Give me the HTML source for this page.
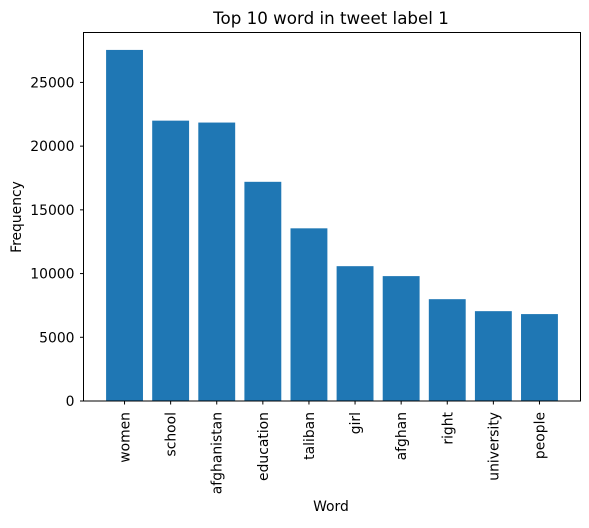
<!DOCTYPE html>
<html><head><meta charset="utf-8"><style>
body{margin:0;background:#fff;font-family:"Liberation Sans","DejaVu Sans",sans-serif}
text{font-family:"DejaVu Sans","Liberation Sans",sans-serif;fill:#000}
</style></head><body>
<svg id="chart" width="589" height="523">
<text x="331" y="24" font-size="16.7" text-anchor="middle">Top 10 word in tweet label 1</text>
<g id="bars"></g>
<g id="yticks"></g>
<g id="xticks"></g>
<rect x="83.5" y="32.5" width="497" height="368.5" fill="none" stroke="#000" stroke-width="1"/>
<text x="331" y="511" font-size="13.9" text-anchor="middle">Word</text>
<text transform="translate(21,217) rotate(-90)" font-size="13.9" text-anchor="middle">Frequency</text>
</svg>
<script>
const categories=["women","school","afghanistan","education","taliban","girl","afghan","right","university","people"];
const values=[27550,22000,21850,17200,13550,10580,9800,7990,7050,6820];
const yTicks=[0,5000,10000,15000,20000,25000];
const NS="http://www.w3.org/2000/svg";
const L=83.5,R=580.5,T=32.5,B=401;
const xmin=-0.89,xmax=9.89,ymax=28917;
const x=v=>L+(v-xmin)/(xmax-xmin)*(R-L);
const y=v=>B-v/ymax*(B-T);
function mk(t,a){const e=document.createElementNS(NS,t);for(const k in a)e.setAttribute(k,a[k]);return e;}
const gb=document.getElementById('bars'),gy=document.getElementById('yticks'),gx=document.getElementById('xticks');
categories.forEach((c,i)=>{
 const r=mk('rect',{x:x(i-0.4),y:y(values[i]),width:x(i+0.4)-x(i-0.4),height:B-y(values[i]),fill:'#1f77b4'});
 
 
 gb.appendChild(r);
 const tk=mk('line',{x1:x(i),x2:x(i),y1:B,y2:B+3.5,stroke:'#000'});
 
 
 gx.appendChild(tk);
 const t=mk('text',{transform:`translate(${x(i)+5},${B+11}) rotate(-90)`,'font-size':13.9,'text-anchor':'end'});
 t.textContent=c;
 
 
 gx.appendChild(t);
});
yTicks.forEach(v=>{
 const tk=mk('line',{x1:L-3.5,x2:L,y1:y(v),y2:y(v),stroke:'#000'});
 
 
 gy.appendChild(tk);
 const t=mk('text',{x:L-9,y:y(v)+5,'font-size':13.9,'text-anchor':'end'});
 t.textContent=v;
 
 
 gy.appendChild(t);
});
</script>
</body></html>
